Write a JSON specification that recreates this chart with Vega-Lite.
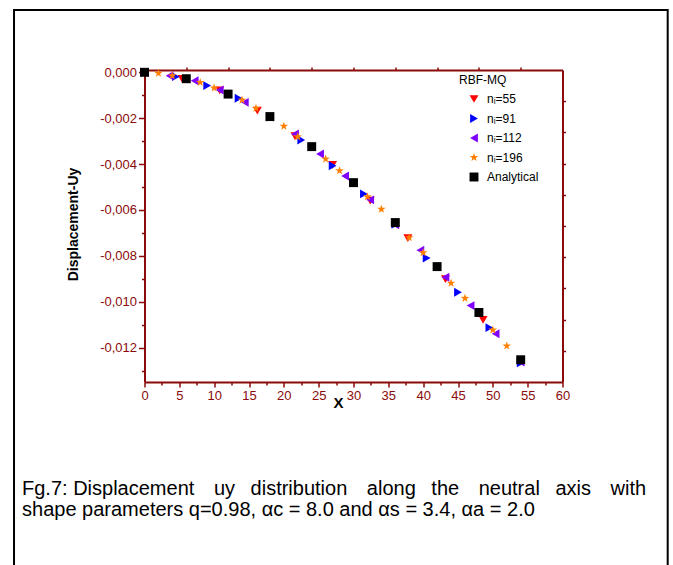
{
  "$schema": "https://vega.github.io/schema/vega-lite/v6.json",
  "width": 418,
  "height": 312,
  "autosize": {"type": "none"},
  "padding": {"left": 144.5, "top": 70, "right": 110.5, "bottom": 183},
  "background": "white",
  "config": {
    "view": {"stroke": null},
    "font": "Liberation Sans",
    "locale": {"number": {"decimal": ",", "thousands": ".", "grouping": [3], "currency": ["", ""], "minus": "-"}},
    "axis": {
      "domainColor": "#8b0a0a", "domainWidth": 2,
      "tickColor": "#8b0a0a", "tickWidth": 1.5,
      "labelColor": "#8b0a0a", "labelFont": "Liberation Sans", "labelFontSize": 13,
      "grid": false, "titleColor": "black", "titleFont": "Liberation Sans"
    }
  },
  "datasets": {
    "pts": [
      {"series": "nᵢ=55", "x": 0, "y": 0},
      {"series": "nᵢ=55", "x": 5.4, "y": -0.00029},
      {"series": "nᵢ=55", "x": 10.8, "y": -0.00079},
      {"series": "nᵢ=55", "x": 16.2, "y": -0.00167},
      {"series": "nᵢ=55", "x": 21.6, "y": -0.00278},
      {"series": "nᵢ=55", "x": 27, "y": -0.00404},
      {"series": "nᵢ=55", "x": 32.4, "y": -0.00559},
      {"series": "nᵢ=55", "x": 37.8, "y": -0.00723},
      {"series": "nᵢ=55", "x": 43.2, "y": -0.00902},
      {"series": "nᵢ=55", "x": 48.6, "y": -0.01079},
      {"series": "nᵢ=55", "x": 54, "y": -0.01262},
      {"series": "nᵢ=91", "x": 0, "y": 0},
      {"series": "nᵢ=91", "x": 4.5, "y": -0.00019},
      {"series": "nᵢ=91", "x": 9, "y": -0.00058},
      {"series": "nᵢ=91", "x": 13.5, "y": -0.00113},
      {"series": "nᵢ=91", "x": 18, "y": -0.00195},
      {"series": "nᵢ=91", "x": 22.5, "y": -0.00295},
      {"series": "nᵢ=91", "x": 27, "y": -0.00407},
      {"series": "nᵢ=91", "x": 31.5, "y": -0.0053},
      {"series": "nᵢ=91", "x": 36, "y": -0.00662},
      {"series": "nᵢ=91", "x": 40.5, "y": -0.0081},
      {"series": "nᵢ=91", "x": 45, "y": -0.00959},
      {"series": "nᵢ=91", "x": 49.5, "y": -0.01113},
      {"series": "nᵢ=91", "x": 54, "y": -0.01266},
      {"series": "nᵢ=112", "x": 0, "y": 0},
      {"series": "nᵢ=112", "x": 3.6, "y": -0.00015},
      {"series": "nᵢ=112", "x": 7.2, "y": -0.00037},
      {"series": "nᵢ=112", "x": 10.8, "y": -0.00077},
      {"series": "nᵢ=112", "x": 14.4, "y": -0.00131},
      {"series": "nᵢ=112", "x": 18, "y": -0.00195},
      {"series": "nᵢ=112", "x": 21.6, "y": -0.00269},
      {"series": "nᵢ=112", "x": 25.2, "y": -0.00356},
      {"series": "nᵢ=112", "x": 28.8, "y": -0.00452},
      {"series": "nᵢ=112", "x": 32.4, "y": -0.00556},
      {"series": "nᵢ=112", "x": 36, "y": -0.00665},
      {"series": "nᵢ=112", "x": 39.6, "y": -0.00776},
      {"series": "nᵢ=112", "x": 43.2, "y": -0.00893},
      {"series": "nᵢ=112", "x": 46.8, "y": -0.01017},
      {"series": "nᵢ=112", "x": 50.4, "y": -0.0114},
      {"series": "nᵢ=112", "x": 54, "y": -0.01263},
      {"series": "nᵢ=196", "x": 0, "y": 0},
      {"series": "nᵢ=196", "x": 2, "y": -0.00004},
      {"series": "nᵢ=196", "x": 4, "y": -0.00015},
      {"series": "nᵢ=196", "x": 6, "y": -0.00028},
      {"series": "nᵢ=196", "x": 8, "y": -0.00044},
      {"series": "nᵢ=196", "x": 10, "y": -0.00068},
      {"series": "nᵢ=196", "x": 12, "y": -0.00095},
      {"series": "nᵢ=196", "x": 14, "y": -0.00121},
      {"series": "nᵢ=196", "x": 16, "y": -0.00157},
      {"series": "nᵢ=196", "x": 18, "y": -0.00193},
      {"series": "nᵢ=196", "x": 20, "y": -0.00235},
      {"series": "nᵢ=196", "x": 22, "y": -0.00281},
      {"series": "nᵢ=196", "x": 24, "y": -0.00325},
      {"series": "nᵢ=196", "x": 26, "y": -0.00378},
      {"series": "nᵢ=196", "x": 28, "y": -0.00429},
      {"series": "nᵢ=196", "x": 30, "y": -0.00482},
      {"series": "nᵢ=196", "x": 32, "y": -0.00542},
      {"series": "nᵢ=196", "x": 34, "y": -0.00597},
      {"series": "nᵢ=196", "x": 36, "y": -0.00655},
      {"series": "nᵢ=196", "x": 38, "y": -0.00721},
      {"series": "nᵢ=196", "x": 40, "y": -0.00786},
      {"series": "nᵢ=196", "x": 42, "y": -0.00848},
      {"series": "nᵢ=196", "x": 44, "y": -0.00919},
      {"series": "nᵢ=196", "x": 46, "y": -0.00985},
      {"series": "nᵢ=196", "x": 48, "y": -0.01049},
      {"series": "nᵢ=196", "x": 50, "y": -0.01123},
      {"series": "nᵢ=196", "x": 52, "y": -0.01193},
      {"series": "nᵢ=196", "x": 54, "y": -0.01255},
      {"series": "Analytical", "x": 0, "y": 0},
      {"series": "Analytical", "x": 6, "y": -0.00028},
      {"series": "Analytical", "x": 12, "y": -0.00095},
      {"series": "Analytical", "x": 18, "y": -0.00193},
      {"series": "Analytical", "x": 24, "y": -0.00324},
      {"series": "Analytical", "x": 30, "y": -0.00481},
      {"series": "Analytical", "x": 36, "y": -0.00655},
      {"series": "Analytical", "x": 42, "y": -0.00847},
      {"series": "Analytical", "x": 48, "y": -0.01047},
      {"series": "Analytical", "x": 54, "y": -0.01253}
    ],
    "one": [{"item": "frame"}]
  },
  "layer": [
    {
      "data": {"name": "pts"},
      "mark": {"type": "point", "filled": true, "opacity": 1, "strokeWidth": 0},
      "encoding": {
        "x": {
          "field": "x", "type": "quantitative",
          "scale": {"domain": [0, 60], "nice": false, "zero": false},
          "axis": {
            "orient": "bottom",
            "values": [0, 2.5, 5, 7.5, 10, 12.5, 15, 17.5, 20, 22.5, 25, 27.5, 30, 32.5, 35, 37.5, 40, 42.5, 45, 47.5, 50, 52.5, 55, 57.5, 60],
            "labelExpr": "datum.value % 5 === 0 ? datum.label : ''",
            "tickSize": {"condition": {"test": "datum.value % 5 === 0", "value": 5}, "value": 3},
            "labelFlush": false, "labelOverlap": false, "labelPadding": 2,
            "title": "X", "titleFontSize": 15, "titleFontWeight": "bold",
            "titleX": 193.5, "titleY": 25, "titleBaseline": "alphabetic", "titleAlign": "center"
          }
        },
        "y": {
          "field": "y", "type": "quantitative",
          "scale": {"domain": [-0.0135, 0.0001], "nice": false, "zero": false},
          "axis": {
            "orient": "left",
            "values": [0, -0.001, -0.002, -0.003, -0.004, -0.005, -0.006, -0.007, -0.008, -0.009, -0.01, -0.011, -0.012, -0.013],
            "format": ".3f",
            "labelExpr": "round(datum.value*1000) % 2 === 0 ? datum.label : ''",
            "tickSize": {"condition": {"test": "round(datum.value*1000) % 2 === 0", "value": 6}, "value": 3},
            "labelOverlap": false, "labelPadding": 2,
            "title": "Displacement-Uy", "titleFontSize": 14, "titleFontWeight": "bold",
            "titleX": -71, "titleY": 154, "titleAngle": -90, "titleAlign": "center", "titleBaseline": "middle"
          }
        },
        "color": {
          "field": "series", "type": "nominal",
          "scale": {"domain": ["nᵢ=55", "nᵢ=91", "nᵢ=112", "nᵢ=196", "Analytical"], "range": ["#ff0000", "#0000ff", "#8000ff", "#ff8000", "#000000"]},
          "legend": {
            "title": "RBF-MQ", "orient": "none", "legendX": 314.5, "legendY": 5,
            "titleFontWeight": "normal", "titleFontSize": 12, "titleFont": "Liberation Sans", "titleColor": "black",
            "labelFontSize": 12, "labelFont": "Liberation Sans", "labelColor": "black",
            "rowPadding": 7.5, "symbolOffset": 9, "labelOffset": 7, "titlePadding": 6, "padding": 0,
            "symbolStrokeWidth": 0
          }
        },
        "shape": {
          "field": "series", "type": "nominal", "title": "RBF-MQ",
          "scale": {"domain": ["nᵢ=55", "nᵢ=91", "nᵢ=112", "nᵢ=196", "Analytical"], "range": ["triangle-down", "triangle-right", "triangle-left", "M0,-1L0.235,-0.324L0.951,-0.309L0.38,0.124L0.588,0.809L0,0.4L-0.588,0.809L-0.38,0.124L-0.951,-0.309L-0.235,-0.324Z", "square"]}
        },
        "size": {
          "field": "series", "type": "nominal", "title": "RBF-MQ",
          "scale": {"domain": ["nᵢ=55", "nᵢ=91", "nᵢ=112", "nᵢ=196", "Analytical"], "range": [80, 80, 80, 130, 50]}
        }
      }
    },
    {
      "data": {"name": "one"},
      "mark": {"type": "rect", "fillOpacity": 0, "stroke": "black", "strokeWidth": 2, "clip": false},
      "encoding": {
        "x": {
          "datum": -18.73, "type": "quantitative",
          "scale": {"domain": [0, 60], "nice": false, "zero": false},
          "axis": {"orient": "top", "values": [6, 12, 18, 24, 30, 36, 42, 48, 54], "labels": false, "tickSize": 3, "title": null}
        },
        "x2": {"datum": 75.1},
        "y": {
          "datum": 0.002714, "type": "quantitative",
          "scale": {"domain": [-0.0135, 0.0001], "nice": false, "zero": false},
          "axis": {"orient": "right", "values": [-0.00126, -0.00262, -0.00398, -0.00534, -0.0067, -0.00806, -0.00942, -0.01078, -0.01214], "labels": false, "tickSize": 3, "title": null}
        },
        "y2": {"datum": -0.023}
      }
    },
    {
      "data": {"name": "one"},
      "mark": {"type": "text", "align": "left", "baseline": "alphabetic", "fontSize": 20, "lineHeight": 21, "font": "Liberation Sans", "color": "black"},
      "encoding": {
        "x": {"datum": -17.58, "type": "quantitative", "axis": null, "scale": {"domain": [0, 60], "nice": false, "zero": false}},
        "y": {"datum": -0.018418, "type": "quantitative", "axis": null, "scale": {"domain": [-0.0135, 0.0001], "nice": false, "zero": false}},
        "text": {"value": ["Fg.7: Displacement\u2002\u2009 uy\u2002 distribution\u2002\u2009 along\u2002 the\u2002\u2009 neutral\u2002 axis\u2002\u2009 with", "shape parameters q=0.98, αc = 8.0 and αs = 3.4, αa = 2.0"]}
      }
    }
  ],
  "resolve": {"axis": {"x": "independent", "y": "independent"}}
}
